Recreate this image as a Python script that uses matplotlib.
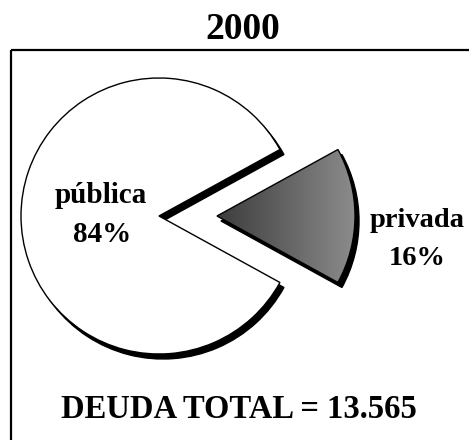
import numpy as np
import matplotlib
matplotlib.use('Agg')
import matplotlib.pyplot as plt

labels = ['privada', 'pública']
shares = [16, 84]
pct_text = ['16%', '84%']
title = '2000'
total_text = 'DEUDA TOTAL = 13.565'

plt.rcParams['font.family'] = ['Liberation Serif', 'DejaVu Serif']
plt.rcParams['font.weight'] = 'bold'

fig = plt.figure(figsize=(4.69, 4.40), dpi=100)
ax = fig.add_axes([0, 0, 1, 1])

cx, cy, r = 159, 224, 138
start = -180 * shares[0] / 100.0
explode = [58, 0]

# shadow (black copy shifted down-right)
shadow, _ = ax.pie(shares, explode=explode, startangle=start, radius=r,
                   center=(cx + 4, cy - 5), colors=['black', 'black'],
                   wedgeprops=dict(edgecolor='black', linewidth=1))
wedges, _ = ax.pie(shares, explode=explode, startangle=start, radius=r,
                   center=(cx, cy), colors=['#666666', 'white'],
                   wedgeprops=dict(edgecolor='black', linewidth=1))
for w in shadow:
    w.set_zorder(1)
for w in wedges:
    w.set_zorder(2)

# gradient fill for the private slice
priv = wedges[0]
priv.set_facecolor('none')
priv.set_zorder(4)
grad = np.linspace(0, 1, 256).reshape(1, -1)
ext = priv.get_path().get_extents()
im = ax.imshow(grad, cmap=matplotlib.colors.LinearSegmentedColormap.from_list(
    'g', ['#3c3c3c', '#8c8c8c']), extent=[ext.x0, ext.x1, ext.y0, ext.y1],
    aspect='auto', zorder=3)
im.set_clip_path(priv)

ax.set_xlim(0, 469)
ax.set_ylim(0, 440)
ax.set_aspect('auto')
ax.axis('off')

# open frame (top and left)
ax.plot([11, 469], [390, 390], color='black', lw=1.6, solid_capstyle='butt')
ax.plot([11, 11], [390, 0], color='black', lw=1.6, solid_capstyle='butt')

ax.text(243, 440 - 38.5, title, ha='center', va='baseline', fontsize=27)
ax.text(101, 440 - 203, labels[1], ha='center', va='baseline', fontsize=21)
ax.text(102, 440 - 242, pct_text[1], ha='center', va='baseline', fontsize=21)
ax.text(417, 440 - 227, labels[0], ha='center', va='baseline', fontsize=20.5)
ax.text(417, 440 - 265, pct_text[0], ha='center', va='baseline', fontsize=20.5)
ax.text(239, 440 - 418, total_text, ha='center', va='baseline', fontsize=23.5)

fig.savefig('out.png', dpi=100)
